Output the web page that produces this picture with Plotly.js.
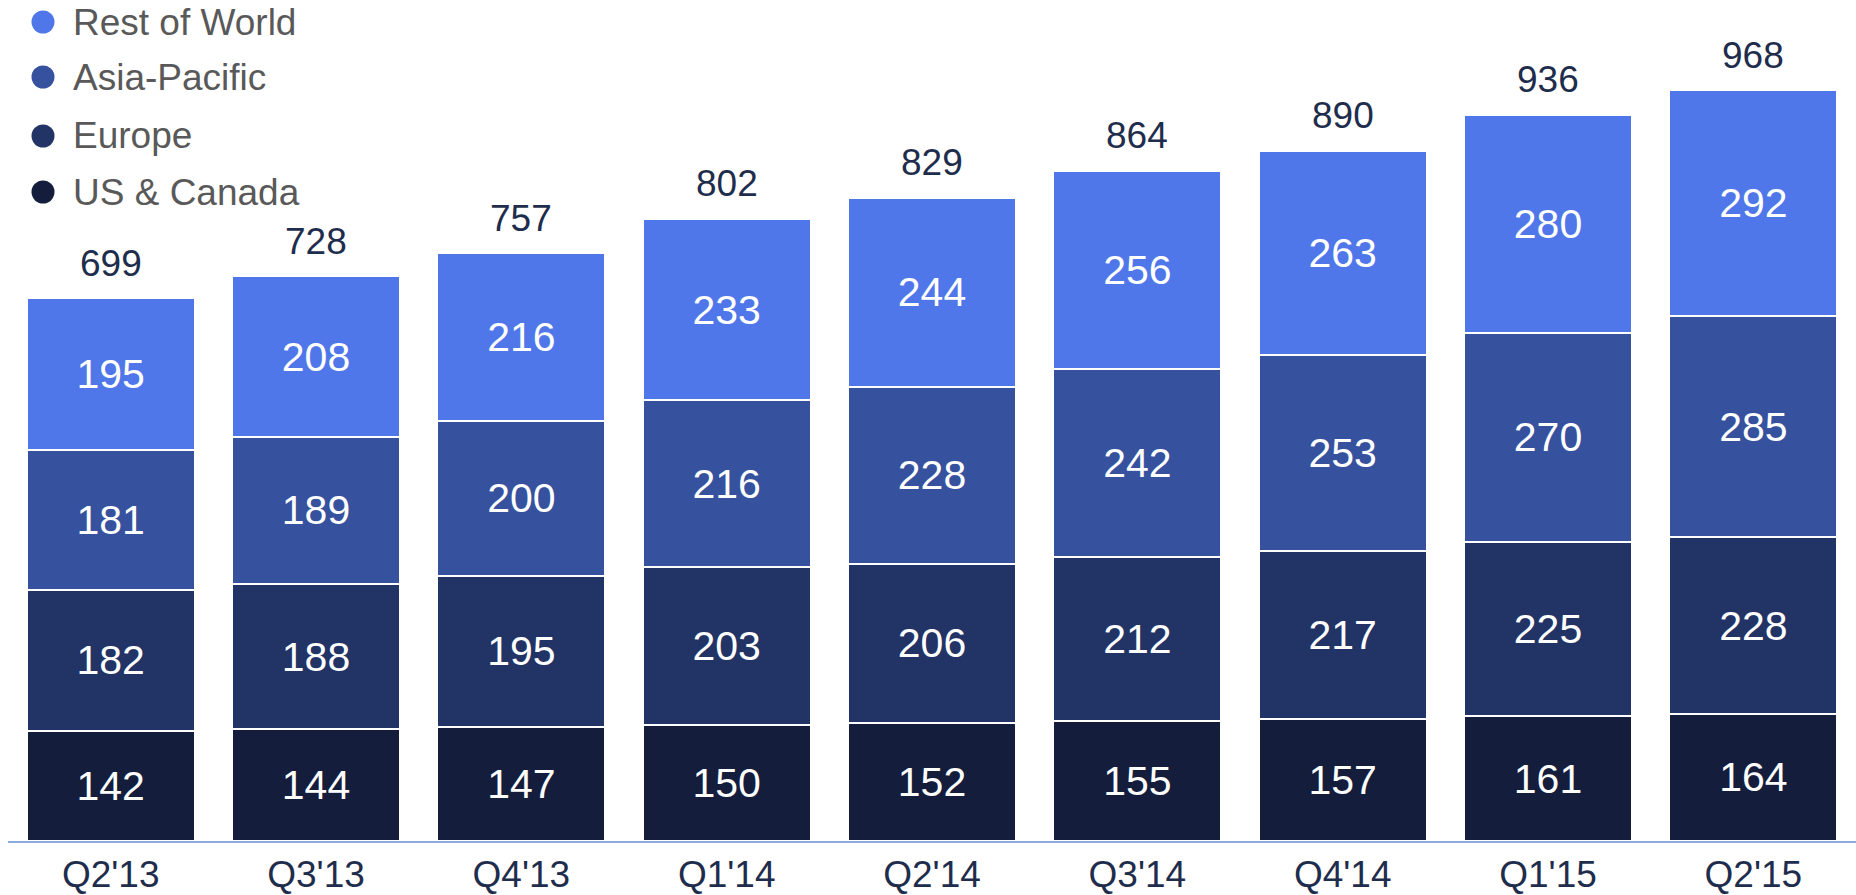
<!DOCTYPE html>
<html>
<head>
<meta charset="utf-8">
<script src="https://cdn.plot.ly/plotly-3.0.1.min.js"></script>
<style>
html,body{margin:0;padding:0;background:#fff;}
#chart{width:1856px;height:895px;}
</style>
</head>
<body>
<div id="chart"></div>
<script>
const quarters = ["Q2'13","Q3'13","Q4'13","Q1'14","Q2'14","Q3'14","Q4'14","Q1'15","Q2'15"];
const usCanada = [142,144,147,150,152,155,157,161,164];
const europe = [182,188,195,203,206,212,217,225,228];
const asiaPacific = [181,189,200,216,228,242,253,270,285];
const restOfWorld = [195,208,216,233,244,256,263,280,292];
const totals = [699,728,757,802,829,864,890,936,968];

const seriesNames = ["US & Canada","Europe","Asia-Pacific","Rest of World"];
const seriesValues = [usCanada, europe, asiaPacific, restOfWorld];
const seriesColors = ["#141D3B","#223366","#36519D","#5077EA"];

const FONT = "Liberation Sans, Arial, sans-serif";
const W = 1856, H = 895;
const M = {l: 8, r: 0, t: 0, b: 54};
const plotW = W - M.l - M.r, plotH = H - M.t - M.b;

const traces = seriesValues.map((vals, i) => ({
  type: 'bar',
  x: quarters,
  y: vals,
  name: seriesNames[i],
  text: vals.map(String),
  textposition: 'inside',
  insidetextanchor: 'middle',
  textangle: 0,
  textfont: {color: '#ffffff', size: 41, family: FONT},
  marker: {color: seriesColors[i], line: {color: '#ffffff', width: 2}},
  showlegend: false,
  hoverinfo: 'skip'
}));

// total labels above each stack
const annotations = quarters.map((q, i) => ({
  x: q,
  y: totals[i],
  xref: 'x',
  yref: 'y',
  text: String(totals[i]),
  showarrow: false,
  yanchor: 'bottom',
  yshift: 13,
  font: {size: 37, color: '#1F2D4D', family: FONT}
}));

// custom legend: circles + labels, top item = last series
const shapes = [];
const legendRowY = [22, 77, 136, 192];   // pixel centres from top of page
const legendDotX = 43, legendTextX = 71, dotR = 11.5;
const legendOrder = [3, 2, 1, 0];
legendOrder.forEach((si, row) => {
  const cy = legendRowY[row];
  shapes.push({
    type: 'circle',
    xref: 'paper', yref: 'paper',
    xsizemode: 'pixel', ysizemode: 'pixel',
    xanchor: 0, yanchor: 1,
    x0: legendDotX - M.l - dotR, x1: legendDotX - M.l + dotR,
    y0: -(cy - M.t) - dotR, y1: -(cy - M.t) + dotR,
    fillcolor: seriesColors[si],
    line: {width: 0}
  });
  annotations.push({
    xref: 'paper', yref: 'paper',
    x: (legendTextX - M.l) / plotW,
    y: 1 - (cy - M.t) / plotH,
    xanchor: 'left', yanchor: 'middle',
    text: seriesNames[si],
    showarrow: false,
    font: {size: 37, color: '#595959', family: FONT}
  });
});

const layout = {
  width: W,
  height: H,
  margin: M,
  paper_bgcolor: '#ffffff',
  plot_bgcolor: '#ffffff',
  barmode: 'stack',
  bargap: 0.182,
  font: {family: FONT},
  showlegend: false,
  xaxis: {
    type: 'category',
    range: [-0.5, 8.5],
    showline: true,
    linecolor: '#8FAADC',
    linewidth: 2,
    showgrid: false,
    zeroline: false,
    ticks: '',
    tickfont: {size: 37, color: '#1F2D4D', family: FONT},
    fixedrange: true
  },
  yaxis: {
    range: [0, 1085],
    visible: false,
    showgrid: false,
    zeroline: false,
    fixedrange: true
  },
  shapes: shapes,
  annotations: annotations
};

Plotly.newPlot('chart', traces, layout, {staticPlot: true, displayModeBar: false});
</script>
</body>
</html>
